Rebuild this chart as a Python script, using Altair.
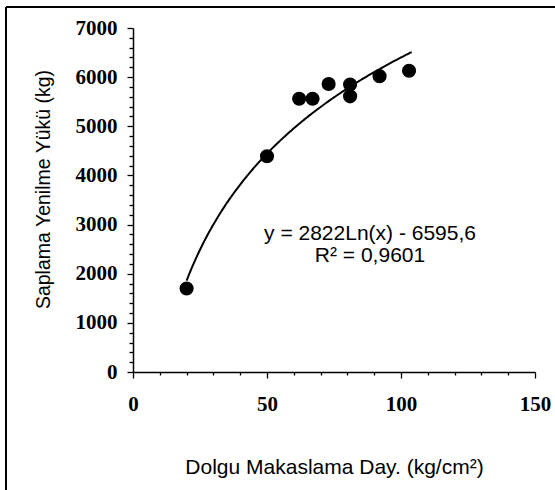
import altair as alt
import pandas as pd

# Measured points: fill shear strength (kg/cm²) vs. anchor failure load (kg)
shear = [20, 50, 62, 67, 73, 81, 81, 92, 103]
load = [1700, 4390, 5560, 5560, 5860, 5610, 5850, 6020, 6130]

# Logarithmic trendline coefficients and fit quality
coef_a = 2822
coef_b = -6595.6
r_squared = "0,9601"
curve_start, curve_end = 20, 104

x_ticks = list(range(0, 151, 10))
y_ticks = list(range(0, 7001, 200))

eq_text = f"y = {coef_a}Ln(x) - {abs(coef_b):.1f}".replace(".", ",")
r2_text = f"R² = {r_squared}"

points_df = pd.DataFrame({"shear": shear, "load": load})

x_enc = alt.X(
    "shear:Q",
    scale=alt.Scale(domain=[0, 150], nice=False, zero=False),
    axis=alt.Axis(
        title="Dolgu Makaslama Day. (kg/cm²)",
        values=x_ticks,
        labelExpr="datum.value % 50 === 0 ? datum.label : ''",
        tickSize={"condition": {"test": "datum.value % 50 === 0", "value": 6}, "value": 3},
        grid=False,
        domainColor="black",
        domainWidth=1.5,
        tickColor="black",
        tickWidth=1.3,
        labelFont="Liberation Serif",
        labelFontWeight="bold",
        labelFontSize=21,
        labelColor="black",
        labelPadding=15,
        labelFlush=False,
        titleFont="Liberation Sans",
        titleFontWeight="normal",
        titleFontSize=21,
        titleColor="black",
        titleX=201,
        titleY=95,
        titleBaseline="middle",
    ),
)

y_enc = alt.Y(
    "load:Q",
    scale=alt.Scale(domain=[0, 7000], nice=False),
    axis=alt.Axis(
        title="Saplama Yenilme Yükü (kg)",
        values=y_ticks,
        labelExpr="datum.value % 1000 === 0 ? datum.label : ''",
        format="d",
        tickSize={"condition": {"test": "datum.value % 1000 === 0", "value": 6}, "value": 4},
        grid=False,
        domainColor="black",
        domainWidth=1.5,
        tickColor="black",
        tickWidth=1.3,
        labelFont="Liberation Serif",
        labelFontWeight="bold",
        labelFontSize=21,
        labelColor="black",
        labelPadding=10,
        labelFlush=False,
        titleFont="Liberation Sans",
        titleFontWeight="normal",
        titleFontSize=19.5,
        titleColor="black",
        titleX=-90,
        titleY=161,
        titleAngle=-90,
        titleBaseline="middle",
    ),
)

points = alt.Chart(points_df).mark_circle(size=200, color="black", opacity=1).encode(x=x_enc, y=y_enc)

curve = (
    alt.Chart(alt.sequence(curve_start, curve_end + 0.01, 0.5, as_="shear"))
    .transform_calculate(load=f"{coef_a} * log(datum.shear) + ({coef_b})")
    .mark_line(color="black", strokeWidth=2)
    .encode(x=x_enc, y=y_enc)
)

# Trendline equation and R² placed as a centred two-line annotation
labels_df = pd.DataFrame({"txt": [eq_text, r2_text], "row": [0, 1]})
eq_label = (
    alt.Chart(labels_df)
    .transform_filter("datum.row === 0")
    .mark_text(font="Liberation Sans", fontSize=21, color="black", align="center", baseline="middle")
    .encode(text="txt:N", x=alt.value(237), y=alt.value(206))
)
r2_label = (
    alt.Chart(labels_df)
    .transform_filter("datum.row === 1")
    .mark_text(font="Liberation Sans", fontSize=21, color="black", align="center", baseline="middle")
    .encode(text="txt:N", x=alt.value(237), y=alt.value(228))
)

# Outer frame lines (left and top edges of the figure box)
frame_left = alt.Chart(points_df).mark_rule(color="black", strokeWidth=2).encode(
    x=alt.value(-127), y=alt.value(-21), y2=alt.value(462)
)
frame_top = alt.Chart(points_df).mark_rule(color="black", strokeWidth=2).encode(
    x=alt.value(-127), x2=alt.value(422), y=alt.value(-21)
)

chart = (
    alt.layer(frame_left, frame_top, curve, points, eq_label, r2_label)
    .properties(
        width=402,
        height=344,
        padding={"left": 133, "top": 28, "right": 20, "bottom": 118},
        autosize=alt.AutoSizeParams(type="none"),
        background="white",
    )
    .configure_view(stroke=None)
)

chart.save("out.html", embed_options={"renderer": "svg", "actions": False})
